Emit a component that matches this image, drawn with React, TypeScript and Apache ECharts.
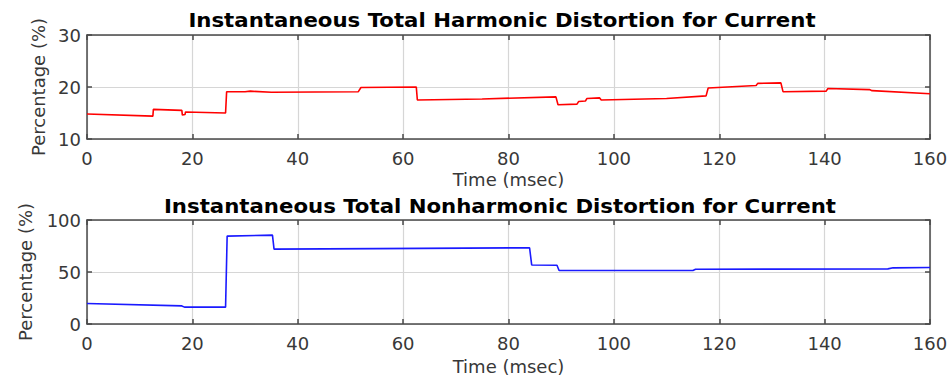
import React, { useEffect, useRef } from "react";
import * as echarts from "echarts";

const thdTime = [0, 12.5, 12.6, 18.0, 18.1, 18.6, 18.7, 26.3, 26.5, 30, 31, 35, 51.5, 52, 62.5, 62.7, 75, 89, 89.4, 93, 93.3, 94.6, 94.9, 97.3, 97.6, 110, 117.5, 117.9, 127, 127.3, 131.7, 132.1, 140.3, 140.6, 148.5, 149, 160];
const thdValue = [14.8, 14.4, 15.7, 15.5, 14.6, 14.7, 15.2, 15.0, 19.1, 19.1, 19.2, 19.0, 19.1, 19.9, 20.0, 17.5, 17.7, 18.1, 16.6, 16.7, 17.2, 17.3, 17.8, 17.9, 17.5, 17.8, 18.3, 19.8, 20.3, 20.7, 20.8, 19.1, 19.2, 19.7, 19.5, 19.3, 18.7];

const tnhdTime = [0, 18, 18.5, 26.3, 26.6, 35.2, 35.5, 55, 84.0, 84.4, 89.2, 89.6, 115, 115.5, 152, 153, 160];
const tnhdValue = [19.7, 17.4, 16.2, 16.2, 84.5, 85.5, 72.0, 72.5, 73.3, 56.8, 56.5, 51.5, 51.5, 52.7, 53.0, 54.0, 54.3];

const titles = [
  "Instantaneous Total Harmonic Distortion for Current",
  "Instantaneous Total Nonharmonic Distortion for Current",
];
const xName = "Time (msec)";
const yName = "Percentage (%)";

const FONT = "DejaVu Sans";
const AXIS = "#4a4a4a";
const GRIDC = "#d6d6d6";
const LABEL = "#383838";

function xAxes(gridIndex: number, nameGap: number) {
  return [
    {
      gridIndex,
      type: "value",
      min: 0,
      max: 160,
      interval: 20,
      position: "bottom",
      axisLine: { show: true, onZero: false, lineStyle: { color: AXIS, width: 1.5 } },
      axisTick: { show: true, inside: true, length: 5, lineStyle: { color: AXIS, width: 1.5 } },
      axisLabel: { margin: 10, fontSize: 18, fontFamily: FONT, color: LABEL },
      splitLine: { show: true, lineStyle: { color: GRIDC, width: 1.2 } },
      name: xName,
      nameLocation: "middle",
      nameGap,
      nameTextStyle: { fontSize: 18, fontFamily: FONT, color: LABEL },
    },
    {
      gridIndex,
      type: "value",
      min: 0,
      max: 160,
      interval: 20,
      position: "top",
      axisLine: { show: true, onZero: false, lineStyle: { color: AXIS, width: 1.5 } },
      axisTick: { show: true, inside: true, length: 5, lineStyle: { color: AXIS, width: 1.5 } },
      axisLabel: { show: false },
      splitLine: { show: false },
    },
  ];
}

function yAxes(gridIndex: number, min: number, max: number, interval: number, nameGap: number) {
  return [
    {
      gridIndex,
      type: "value",
      min,
      max,
      interval,
      position: "left",
      axisLine: { show: true, onZero: false, lineStyle: { color: AXIS, width: 1.5 } },
      axisTick: { show: true, inside: true, length: 5, lineStyle: { color: AXIS, width: 1.5 } },
      axisLabel: { margin: 6, fontSize: 18, fontFamily: FONT, color: LABEL },
      splitLine: { show: true, lineStyle: { color: GRIDC, width: 1.2 } },
      name: yName,
      nameLocation: "middle",
      nameGap,
      nameRotate: 90,
      nameTextStyle: { fontSize: 18, fontFamily: FONT, color: LABEL },
    },
    {
      gridIndex,
      type: "value",
      min,
      max,
      interval,
      position: "right",
      axisLine: { show: true, onZero: false, lineStyle: { color: AXIS, width: 1.5 } },
      axisTick: { show: true, inside: true, length: 5, lineStyle: { color: AXIS, width: 1.5 } },
      axisLabel: { show: false },
      splitLine: { show: false },
    },
  ];
}

export default function App() {
  const ref = useRef<HTMLDivElement>(null);
  useEffect(() => {
    if (!ref.current) return;
    const chart = echarts.init(ref.current, undefined, { renderer: "svg" });
    const thd = thdTime.map((t, i) => [t, thdValue[i]]);
    const tnhd = tnhdTime.map((t, i) => [t, tnhdValue[i]]);
    chart.setOption({
      animation: false,
      backgroundColor: "#ffffff",
      grid: [
        { left: 87, right: 22, top: 35, height: 104, show: false },
        { left: 87, right: 22, top: 220, height: 105, show: false },
      ],
      xAxis: [...xAxes(0, 31), ...xAxes(1, 33)],
      yAxis: [...yAxes(0, 10, 30, 10, 39), ...yAxes(1, 0, 100, 50, 53)],
      graphic: [
        {
          type: "text",
          x: 502,
          y: 20,
          scaleX: 1.12,
          style: {
            text: titles[0],
            font: `bold 19px "${FONT}"`,
            fill: "#000",
            textAlign: "center",
            textVerticalAlign: "middle",
          },
        },
        {
          type: "text",
          x: 500,
          y: 206,
          scaleX: 1.12,
          style: {
            text: titles[1],
            font: `bold 19px "${FONT}"`,
            fill: "#000",
            textAlign: "center",
            textVerticalAlign: "middle",
          },
        },
      ],
      series: [
        {
          type: "line",
          xAxisIndex: 0,
          yAxisIndex: 0,
          data: thd,
          showSymbol: false,
          lineStyle: { color: "#ff0000", width: 1.6 },
          itemStyle: { color: "#ff0000" },
        },
        {
          type: "line",
          xAxisIndex: 2,
          yAxisIndex: 2,
          data: tnhd,
          showSymbol: false,
          lineStyle: { color: "#1a1aff", width: 1.6 },
          itemStyle: { color: "#1a1aff" },
        },
      ],
    });
    return () => chart.dispose();
  }, []);
  return (
    <div
      ref={ref}
      style={{ position: "fixed", left: 0, top: 0, width: 952, height: 376, background: "#fff" }}
    />
  );
}
